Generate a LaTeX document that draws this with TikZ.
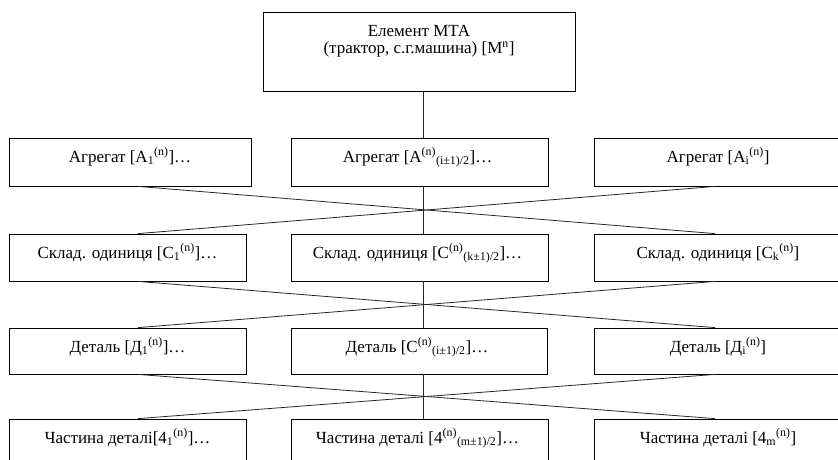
\documentclass[tikz,border=0pt]{standalone}
\usepackage{fontspec}
\setmainfont{Liberation Serif}
\usetikzlibrary{calc}
\newcommand{\sbs}[1]{\textsubscript{#1}}
\newcommand{\sps}[1]{\textsuperscript{#1}}
\begin{document}
\begin{tikzpicture}[x=1pt,y=-1pt,
  box/.style={draw=black, line width=0.8pt, inner sep=0pt, rectangle},
  txt/.style={font=\fontsize{17}{17}\selectfont, anchor=base, inner sep=0pt},
  link/.style={draw=black!85, line width=0.8pt}]
\useasboundingbox (0,0) rectangle (838,459);
% top
\node[box, minimum width=312, minimum height=79] (top) at (419,51.5) {};
% row 1
\node[box, minimum width=242, minimum height=48] (a1) at (130,162) {};
\node[box, minimum width=257, minimum height=48] (a2) at (419.5,162) {};
\node[box, minimum width=244, minimum height=48] (a3) at (716,162) {};
% row 2
\node[box, minimum width=237, minimum height=47] (b1) at (127.5,257.5) {};
\node[box, minimum width=257, minimum height=47] (b2) at (419.5,257.5) {};
\node[box, minimum width=244, minimum height=47] (b3) at (716,257.5) {};
% row 3
\node[box, minimum width=237, minimum height=46] (c1) at (127.5,351) {};
\node[box, minimum width=256, minimum height=46] (c2) at (419,351) {};
\node[box, minimum width=244, minimum height=46] (c3) at (716,351) {};
% row 4
\node[box, minimum width=237, minimum height=60] (d1) at (127.5,449) {};
\node[box, minimum width=257, minimum height=60] (d2) at (419.5,449) {};
\node[box, minimum width=244, minimum height=60] (d3) at (716,449) {};
% texts
\node[txt] (t0a) at ($(top.north)+(0,25)$) {Елемент МТА};
\node[txt] (t0b) at ($(top.north)+(0,42)$) {(трактор, с.г.машина) [М\sps{n}]};
\node[txt] (ta1) at ($(a1.north)+(0,24.5)$) {Агрегат [А\sbs{1}\sps{(n)}]…};
\node[txt] (ta2) at ($(a2.north)+(-2,24.5)$) {Агрегат [А\sps{(n)}\sbs{(i±1)/2}]…};
\node[txt] (ta3) at ($(a3.north)+(2,24.5)$) {Агрегат [А\sbs{i}\sps{(n)}]};
\node[txt] (tb1) at ($(b1.north)+(0,24.5)$) {Склад. одиниця [С\sbs{1}\sps{(n)}]…};
\node[txt] (tb2) at ($(b2.north)+(-2,24.5)$) {Склад. одиниця [С\sps{(n)}\sbs{(k±1)/2}]…};
\node[txt] (tb3) at ($(b3.north)+(2,24.5)$) {Склад. одиниця [С\sbs{k}\sps{(n)}]};
\node[txt] (tc1) at ($(c1.north)+(0,24.5)$) {Деталь [Д\sbs{1}\sps{(n)}]…};
\node[txt] (tc2) at ($(c2.north)+(-2,24.5)$) {Деталь [С\sps{(n)}\sbs{(i±1)/2}]…};
\node[txt] (tc3) at ($(c3.north)+(2,24.5)$) {Деталь [Д\sbs{i}\sps{(n)}]};
\node[txt] (td1) at ($(d1.north)+(0,24.5)$) {Частина деталі[4\sbs{1}\sps{(n)}]…};
\node[txt] (td2) at ($(d2.north)+(-2,24.5)$) {Частина деталі [4\sps{(n)}\sbs{(m±1)/2}]…};
\node[txt] (td3) at ($(d3.north)+(2,24.5)$) {Частина деталі [4\sbs{m}\sps{(n)}]};
% guide coordinates
\coordinate (vx) at (423,0);
\coordinate (cl) at (138,0);
\coordinate (cr) at (715,0);
% vertical trunk
\draw[link] (top.south -| vx) -- (a2.north -| vx);
\draw[link] (a2.south -| vx) -- (b2.north -| vx);
\draw[link] (b2.south -| vx) -- (c2.north -| vx);
\draw[link] (c2.south -| vx) -- (d2.north -| vx);
% crossings
\draw[link] (a1.south -| cl) -- (b3.north -| cr);
\draw[link] (a3.south -| cr) -- (b1.north -| cl);
\draw[link] (b1.south -| cl) -- (c3.north -| cr);
\draw[link] (b3.south -| cr) -- (c1.north -| cl);
\draw[link] (c1.south -| cl) -- (d3.north -| cr);
\draw[link] (c3.south -| cr) -- (d1.north -| cl);
\end{tikzpicture}
\end{document}
